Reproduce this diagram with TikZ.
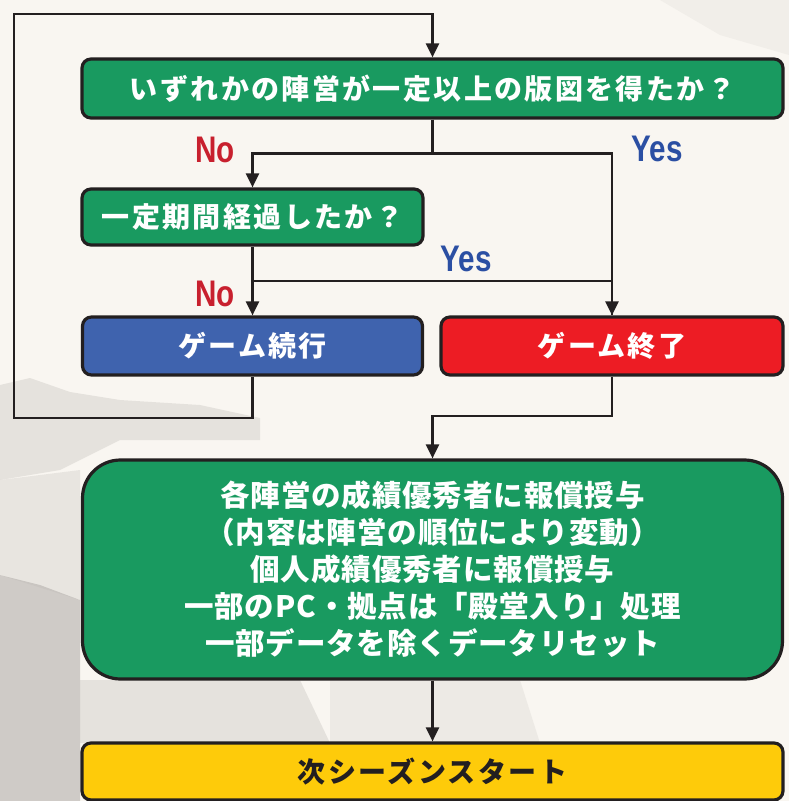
\documentclass[tikz,border=0pt]{standalone}
\usepackage{fontspec}
\usetikzlibrary{arrows.meta}
\newfontfamily\jp{Noto Sans CJK JP}[LetterSpace=8.5]
\newfontfamily\jpb{Noto Sans CJK JP}[LetterSpace=3]
\newfontfamily\lat{Liberation Sans}
\definecolor{bgc}{HTML}{F9F6F1}
\definecolor{rockc}{HTML}{B9B5B1}
\definecolor{ink}{HTML}{231F20}
\definecolor{boxgreen}{HTML}{199A60}
\definecolor{boxblue}{HTML}{3F63AE}
\definecolor{boxred}{HTML}{ED1C24}
\definecolor{boxyellow}{HTML}{FECB0A}
\definecolor{nored}{HTML}{C8202E}
\definecolor{yesblue}{HTML}{2B4FA3}
\tikzset{
  box/.style={draw=ink, line width=3.2pt, rounded corners=9pt, inner sep=0pt,
    text=white, font=\jp\bfseries\fontsize{28}{28}\selectfont},
  conn/.style={draw=ink, line width=2.4pt},
  arr/.style={conn, -{Triangle[width=13pt,length=14pt]}},
  nolab/.style={text=nored, anchor=base, inner sep=0pt, xscale=0.8,
    font=\lat\bfseries\fontsize{37}{37}\selectfont},
  yeslab/.style={nolab, text=yesblue},
}
\begin{document}
\begin{tikzpicture}[x=1pt, y=-1pt]
\useasboundingbox (0,0) rectangle (789,801);
% background
\fill[bgc] (0,0) rectangle (789,801);
\fill[rockc, opacity=0.3] (0,385) -- (30,378) -- (70,392) -- (120,400) -- (200,405) -- (260,418) -- (260,440) -- (120,440) -- (60,470) -- (0,480) -- cycle;
\fill[rockc, opacity=0.65] (0,575) -- (40,585) -- (80,600) -- (80,801) -- (0,801) -- cycle;
\fill[rockc, opacity=0.25] (0,480) -- (80,470) -- (80,600) -- (0,575) -- cycle;
\fill[rockc, opacity=0.3] (80,680) -- (300,680) -- (330,743) -- (80,743) -- cycle;
\fill[rockc, opacity=0.18] (330,680) -- (520,680) -- (540,743) -- (330,743) -- cycle;
\fill[rockc, opacity=0.12] (660,0) -- (789,0) -- (789,55) -- (720,35) -- cycle;
% boxes
\node[box, fill=boxgreen, minimum width=701pt, minimum height=59pt] (b1) at (432.5,88.5)
  {いずれかの陣営が一定以上の版図を得たか？};
\node[box, fill=boxgreen, minimum width=341pt, minimum height=56pt] (b2) at (252.5,217)
  {一定期間経過したか？};
\node[box, fill=boxblue, minimum width=340pt, minimum height=58pt] (b3) at (252.5,346)
  {ゲーム続行};
\node[box, fill=boxred, minimum width=342pt, minimum height=58pt] (b4) at (612,346)
  {ゲーム終了};
\node[box, fill=boxgreen, rounded corners=38pt, minimum width=700pt, minimum height=219pt,
  align=center, font=\jpb\bfseries\fontsize{29.5}{37}\selectfont] (b5) at (432.5,569.5)
  {各陣営の成績優秀者に報償授与\\（内容は陣営の順位により変動）\\個人成績優秀者に報償授与\\一部のPC・拠点は「殿堂入り」処理\\一部データを除くデータリセット};
\node[box, fill=boxyellow, text=ink, minimum width=701pt, minimum height=57pt] (b6) at (432.5,771.5)
  {次シーズンスタート};
% junction coordinates
\coordinate (s1) at (432.5,153.5);
\coordinate (j1) at (252.5,281);
\coordinate (lpA) at (14,418);
\coordinate (lpB) at (14,14);
\coordinate (k1) at (432.5,416);
% connectors
\draw[arr] (b3.south) |- (lpA) -- (lpB) -| (b1.north);
\draw[conn] (b1.south) -- (s1);
\draw[arr] (s1) -| (b2.north);
\draw[arr] (s1) -| (b4.north);
\draw[arr] (b2.south) -- (b3.north);
\draw[conn] (j1) -| (b4.north);
\draw[arr] (b4.south) |- (k1) -- (b5.north);
\draw[arr] (b5.south) -- (b6.north);
% labels
\node[nolab] (no1) at (215,162) {No};
\node[yeslab] (yes1) at (657,161) {Yes};
\node[yeslab] (yes2) at (466,271) {Yes};
\node[nolab] (no2) at (215,306) {No};
\end{tikzpicture}
\end{document}
